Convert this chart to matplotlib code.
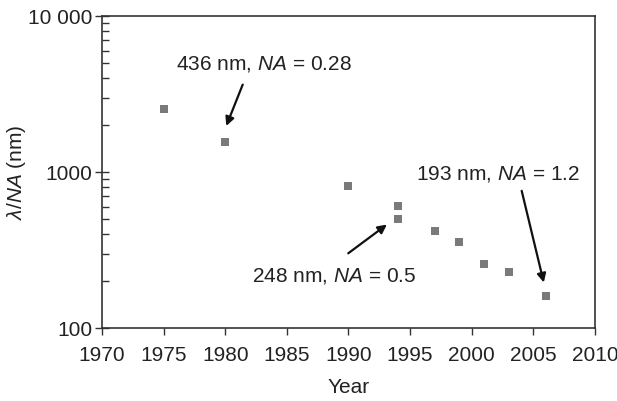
import matplotlib
matplotlib.use("Agg")
import matplotlib.pyplot as plt
from matplotlib.ticker import LogLocator, NullFormatter

plt.rcParams['font.family'] = 'Liberation Sans'
plt.rcParams['mathtext.fontset'] = 'custom'
plt.rcParams['mathtext.rm'] = 'Liberation Sans'
plt.rcParams['mathtext.it'] = 'Liberation Sans:italic'

# data
years = [1975, 1980, 1990, 1994, 1994, 1997, 1999, 2001, 2003, 2006]
res_nm = [2540, 1560, 815, 608, 500, 419, 356, 257, 228, 161]

ytick_vals = [100, 1000, 10000]
ytick_labels = ["100", "1000", "10 000"]
xtick_vals = [1970, 1975, 1980, 1985, 1990, 1995, 2000, 2005, 2010]

# (label, text pos, arrow start, arrow end)
notes = [
    (r"436 nm, $\mathit{NA}$ = 0.28", (1976.0, 4900), (1981.5, 3775), (1980.0, 1900)),
    (r"248 nm, $\mathit{NA}$ = 0.5", (1982.2, 217), (1989.8, 294), (1993.3, 472)),
    (r"193 nm, $\mathit{NA}$ = 1.2", (1995.5, 975), (2004.0, 789), (2005.9, 188)),
]

txt = "#222222"
fs = 15
fig = plt.figure(figsize=(6.17, 4.01), dpi=100)
ax = fig.add_axes([0.1653, 0.182, 0.799, 0.778])

ax.plot(years, res_nm, 's', color='#7a7a7a', markersize=5.3, markeredgewidth=0)

ax.set_yscale('log')
ax.set_ylim(100, 10000)
ax.set_xlim(1970, 2010)
ax.set_yticks(ytick_vals)
ax.set_yticklabels(ytick_labels)
ax.yaxis.set_minor_locator(LogLocator(base=10, subs=range(2, 10)))
ax.yaxis.set_minor_formatter(NullFormatter())
ax.set_xticks(xtick_vals)

ax.tick_params(axis='x', which='major', direction='out', length=5, width=1, labelsize=fs,
               colors='#333333', labelcolor=txt, pad=8)
ax.tick_params(axis='y', which='major', direction='inout', length=10, width=1, labelsize=fs,
               colors='#333333', labelcolor=txt, pad=2)
ax.tick_params(axis='y', which='minor', direction='in', length=5, width=1, colors='#333333')
for s in ax.spines.values():
    s.set_color('#333333')
    s.set_linewidth(1.2)

ax.set_xlabel("Year", fontsize=fs, color=txt, labelpad=9)
ax.set_ylabel(r"$\lambda$/$\mathit{NA}$ (nm)", fontsize=fs, color=txt)
ax.yaxis.set_label_coords(-0.150, 0.5)

for label, tpos, start, end in notes:
    ax.text(tpos[0], tpos[1], label, fontsize=fs, color=txt, ha='left', va='center')
    ax.annotate('', xy=end, xytext=start,
                arrowprops=dict(arrowstyle='-|>', color='#111111', lw=1.6, mutation_scale=13))

fig.savefig("out.png", dpi=100)
